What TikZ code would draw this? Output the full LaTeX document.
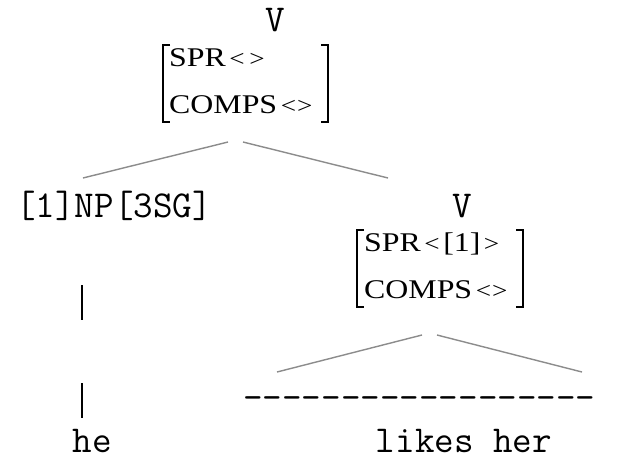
\documentclass[tikz,border=0pt]{standalone}
\usepackage{fontspec}
\newfontfamily\avmfont{Liberation Serif}
\newcommand\avmwide[1]{\scalebox{1.18}[1]{#1}}
\newcommand\avmlt{{\fontsize{23}{23}\selectfont<}}
\newcommand\avmgt{{\fontsize{23}{23}\selectfont>}}
\begin{document}
\begin{tikzpicture}[x=1pt,y=-1pt,
  mono/.style={font=\fontsize{38}{38}\ttfamily, inner sep=0pt, anchor=base, text depth=0pt},
  avm/.style={font=\fontsize{27}{27}\avmfont, inner sep=0pt, anchor=base west},
  branch/.style={draw=black!45, line width=1.4pt},
  bar/.style={draw=black, line width=1.1pt},
  brk/.style={draw=black, line width=1.3pt}]
\useasboundingbox[fill=white] (0,0) rectangle (620,459);

% top node
\node[mono] (v1) at (275,31) {V};
\node[avm] (s1) at (169,66) {\avmwide{SPR\hspace{3pt}\avmlt\hspace{4pt}\avmgt}};
\node[avm] (c1) at (169,113) {\avmwide{COMPS\hspace{3pt}\avmlt\hspace{1pt}\avmgt}};
\draw[brk] (170,45) -- (163,45) -- (163,122) -- (170,122);
\draw[brk] (321,45) -- (328,45) -- (328,122) -- (321,122);

% second row
\node[mono] (np) at (114,217) {[1]NP[3SG]};
\node[mono] (v2) at (462,217) {V};
\node[avm] (s2) at (364,251) {\avmwide{SPR\hspace{3pt}\avmlt\hspace{3pt}[1]\hspace{3pt}\avmgt}};
\node[avm] (c2) at (364,298) {\avmwide{COMPS\hspace{3pt}\avmlt\hspace{1pt}\avmgt}};
\draw[brk] (364,230) -- (357,230) -- (357,307) -- (364,307);
\draw[brk] (516,230) -- (523,230) -- (523,307) -- (516,307);

% leaves
\node[mono, anchor=base west] (dash) at (243,409) {-{}-{}-{}-{}-{}-{}-{}-{}-{}-{}-{}-{}-{}-{}-{}-{}-{}-};
\node[mono] (he) at (92,452) {he};
\node[mono] (lh) at (464,452) {likes her};

% connector ends
\coordinate (t1l) at (228,142);
\coordinate (t1r) at (243,142);
\coordinate (npt) at (83,178);
\coordinate (v2t) at (388,178);
\coordinate (t2l) at (422,335);
\coordinate (t2r) at (437,335);
\coordinate (d1l) at (277,372);
\coordinate (d1r) at (582,372);
\coordinate (b1a) at (82,285);
\coordinate (b1b) at (82,320);
\coordinate (b2a) at (82,383);
\coordinate (b2b) at (82,418);

\draw[branch] (t1l) -- (npt);
\draw[branch] (t1r) -- (v2t);
\draw[branch] (t2l) -- (d1l);
\draw[branch] (t2r) -- (d1r);
\draw[bar] (b1a) -- (b1b);
\draw[bar] (b2a) -- (b2b);
\end{tikzpicture}
\end{document}
